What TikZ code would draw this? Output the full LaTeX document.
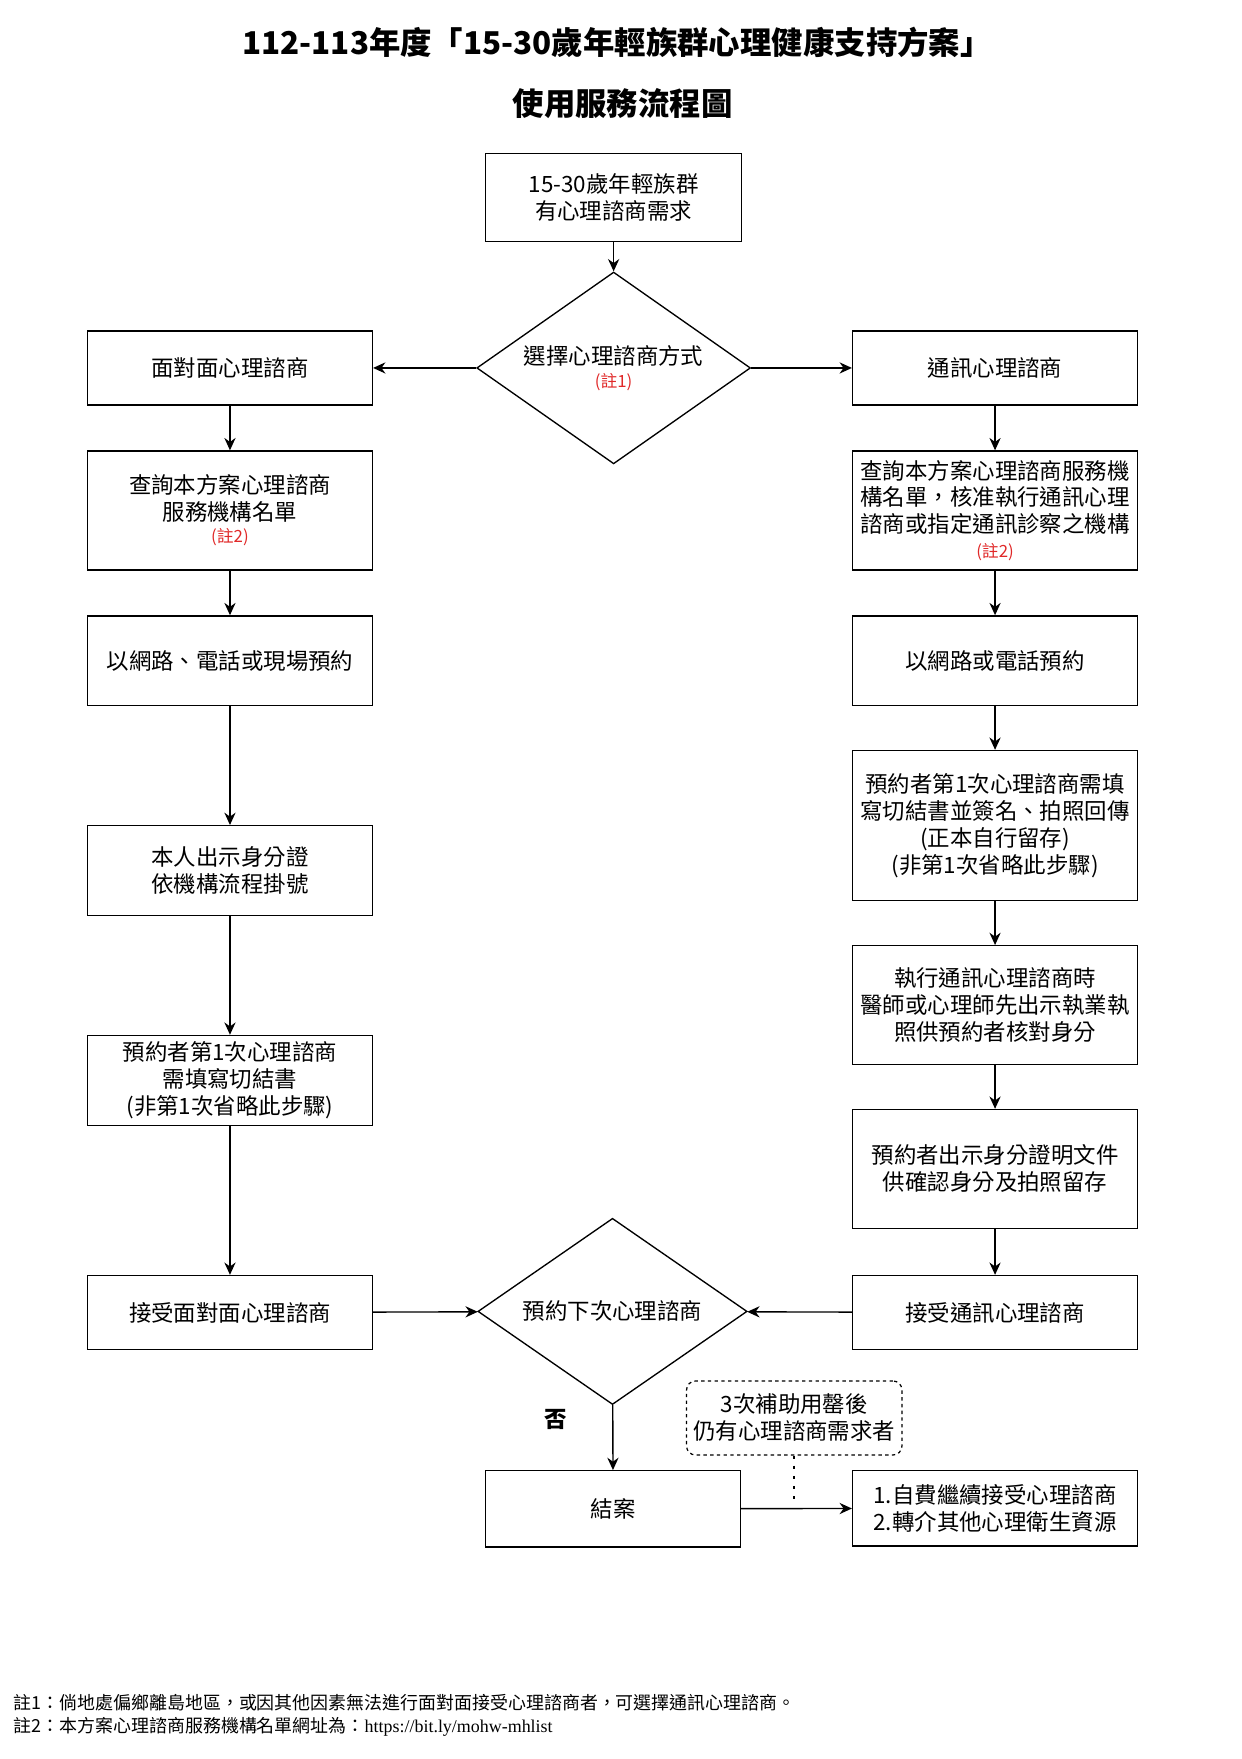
\documentclass[tikz,border=0pt]{standalone}
\usepackage{fontspec}
\setmainfont{Noto Sans CJK TC}
\newfontfamily\urlfont{Liberation Serif}
\usetikzlibrary{shapes.geometric,arrows.meta}
\definecolor{notered}{RGB}{224,40,40}
\newcommand{\notemark}[1]{{\fontsize{15}{17}\selectfont\color{notered}(#1)}}
\begin{document}
\begin{tikzpicture}[x=1pt,y=-1pt,
  font=\fontsize{20}{24}\selectfont,
  box/.style={shape=rectangle,draw,line width=1.2pt,align=center,inner sep=2pt,minimum width=254pt},
  choice/.style={shape=diamond,draw,line width=1.2pt,align=center,inner sep=0pt,aspect=1.45},
  memo/.style={shape=rectangle,draw,dashed,rounded corners=8pt,line width=1.1pt,align=center,minimum width=192pt,minimum height=66pt},
  flow/.style={-{Stealth[length=11pt,width=10pt]},line width=1.2pt}]
\useasboundingbox (0,0) rectangle (1107,1568);
\node (H1) at (550,38) {\fontsize{28}{32}\selectfont\bfseries 112-113年度「15-30歲年輕族群心理健康支持方案」};
\node (H2) at (555,92) {\fontsize{28}{32}\selectfont\bfseries 使用服務流程圖};
\node (T) at (547,176) [box,minimum width=228pt,minimum height=78pt]{15-30歲年輕族群\\有心理諮商需求};
\node (S) at (547,328) [choice,minimum width=244pt,minimum height=171pt]{選擇心理諮商方式\\[-4pt]\notemark{註1}};
\node (L1) at (205,328) [box,minimum height=66pt]{面對面心理諮商};
\node (R1) at (887,328) [box,minimum height=66pt]{通訊心理諮商};
\node (L2) at (205,455) [box,minimum height=106pt]{查詢本方案心理諮商\\服務機構名單\\[-4pt]\notemark{註2}};
\node (R2) at (887,455) [box,minimum height=106pt]{查詢本方案心理諮商服務機\\構名單，核准執行通訊心理\\諮商或指定通訊診察之機構\\[-2pt]\notemark{註2}};
\node (L3) at (205,589) [box,minimum height=80pt]{以網路、電話或現場預約};
\node (R3) at (887,589) [box,minimum height=80pt]{以網路或電話預約};
\node (R4) at (887,736) [box,minimum height=134pt]{預約者第1次心理諮商需填\\寫切結書並簽名、拍照回傳\\(正本自行留存)\\(非第1次省略此步驟)};
\node (L4) at (205,776) [box,minimum height=80pt]{本人出示身分證\\依機構流程掛號};
\node (R5) at (887,896) [box,minimum height=106pt]{執行通訊心理諮商時\\醫師或心理師先出示執業執\\照供預約者核對身分};
\node (L5) at (205,963) [box,minimum height=80pt]{預約者第1次心理諮商\\需填寫切結書\\(非第1次省略此步驟)};
\node (R6) at (887,1042) [box,minimum height=106pt]{預約者出示身分證明文件\\供確認身分及拍照留存};
\node (L6) at (205,1170) [box,minimum height=66pt]{接受面對面心理諮商};
\node (N) at (546,1169) [choice,minimum width=240pt,minimum height=166pt]{預約下次心理諮商};
\node (R7) at (887,1170) [box,minimum height=66pt]{接受通訊心理諮商};
\node (M) at (708,1264) [memo]{3次補助用罄後\\仍有心理諮商需求者};
\node (NO) at (495,1265) {\bfseries 否};
\node (E) at (546.5,1345) [box,minimum width=227pt,minimum height=68pt]{結案};
\node (R8) at (887,1344.5) [box,minimum height=67pt]{1.自費繼續接受心理諮商\\2.轉介其他心理衛生資源};
\coordinate (MD) at (708,1340);
\node (F1) at (12,1518) [anchor=west,inner sep=0pt,font=\fontsize{16}{19}\selectfont]{註1：倘地處偏鄉離島地區，或因其他因素無法進行面對面接受心理諮商者，可選擇通訊心理諮商。};
\node (F2) at (12,1539) [anchor=west,inner sep=0pt,font=\fontsize{16}{19}\selectfont]{註2：本方案心理諮商服務機構名單網址為：{\urlfont https://bit.ly/mohw-mhlist}};
\draw [flow] (T) to (S);
\draw [flow] (S) to (L1);
\draw [flow] (S) to (R1);
\draw [flow] (L1) to (L2);
\draw [flow] (L2) to (L3);
\draw [flow] (L3) to (L4);
\draw [flow] (L4) to (L5);
\draw [flow] (L5) to (L6);
\draw [flow] (R1) to (R2);
\draw [flow] (R2) to (R3);
\draw [flow] (R3) to (R4);
\draw [flow] (R4) to (R5);
\draw [flow] (R5) to (R6);
\draw [flow] (R6) to (R7);
\draw [flow] (L6) to (N);
\draw [flow] (R7) to (N);
\draw [flow] (N) to (E);
\draw [flow] (E) to (R8);
\draw [line width=2pt,dash pattern=on 3pt off 6pt] (M) to (MD);
\end{tikzpicture}
\end{document}
